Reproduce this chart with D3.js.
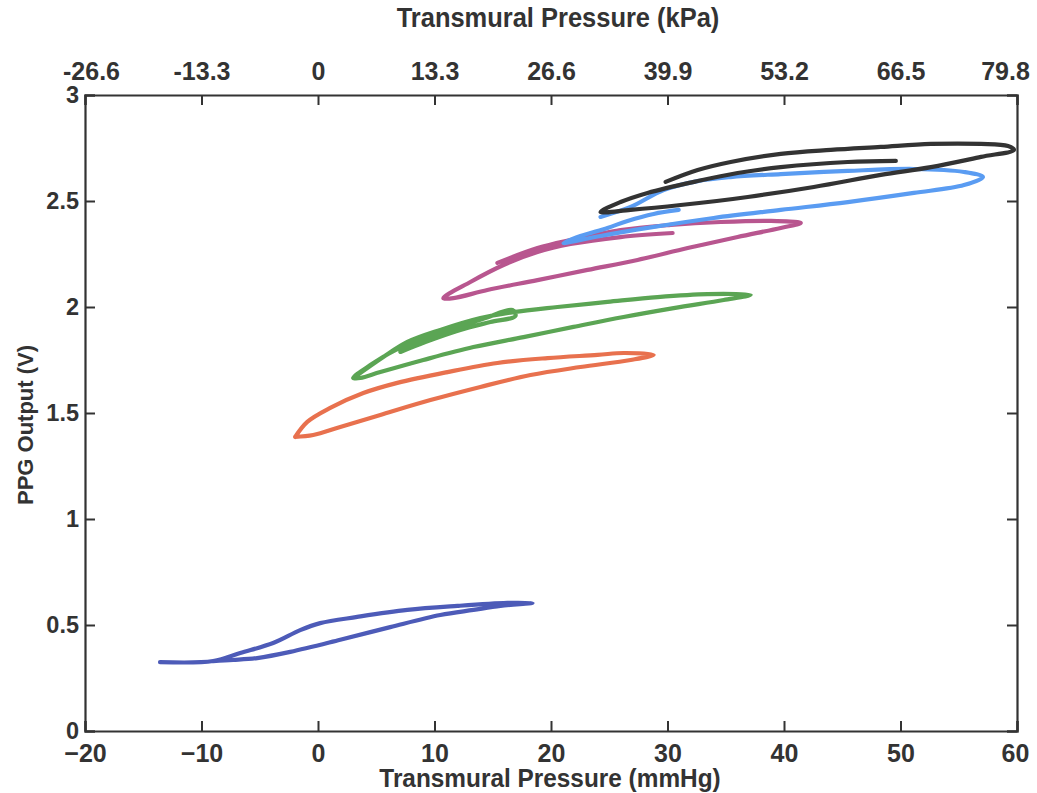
<!DOCTYPE html>
<html><head><meta charset="utf-8">
<script src="https://cdn.jsdelivr.net/npm/d3@7"></script>
<style>body{margin:0;background:#fff}</style>
</head><body>
<svg id="c" width="1037" height="793"></svg>
<script>
// ---- data ----
const xTicks = [-20,-10,0,10,20,30,40,50,60];
const yTicks = [0,0.5,1,1.5,2,2.5,3];
const topTickLabels = ["-26.6","-13.3","0","13.3","26.6","39.9","53.2","66.5","79.8"];

const blueX = [-13.56,-9.0,-6.68,-3.85,-1.53,0.19,3.37,7.67,11.97,16.26,18.41,15.66,13.34,10.5,6.2,1.91,-2.38,-5.22,-7.28,-9.0];
const blueY = [0.325,0.33,0.368,0.415,0.476,0.509,0.538,0.571,0.59,0.604,0.604,0.59,0.571,0.547,0.49,0.43,0.373,0.344,0.335,0.33];

const orangeX = [-1.96,-0.92,1.05,3.89,6.81,11.11,15.4,19.7,24.0,26.23,28.81,26.83,22.53,18.24,13.94,9.65,5.35,1.91,-0.41,-1.96];
const orangeY = [1.387,1.458,1.524,1.594,1.642,1.693,1.736,1.759,1.774,1.783,1.774,1.75,1.717,1.679,1.623,1.561,1.491,1.434,1.396,1.387];

const greenX = [3.03,5.61,7.67,10.5,13.94,16.78,20.56,24.85,29.15,33.45,37.14,34.82,30.53,26.23,21.93,17.64,13.34,9.04,5.35,3.63,3.03,4.49,6.64,8.79,11.79,14.37,16.69,16.95,14.8,12.22,9.21,7.07];
const greenY = [1.665,1.764,1.835,1.892,1.948,1.976,2.0,2.024,2.047,2.061,2.057,2.033,1.995,1.953,1.906,1.858,1.811,1.75,1.693,1.665,1.665,1.726,1.797,1.844,1.901,1.948,1.986,1.958,1.929,1.892,1.835,1.788];

const magentaX = [15.4,18.84,21.68,25.97,30.27,34.56,38.86,41.44,39.72,36.02,31.73,27.43,23.14,18.84,14.54,11.62,10.76,13.08,15.92,18.84,21.68,25.97,30.44];
const magentaY = [2.208,2.278,2.316,2.363,2.387,2.401,2.406,2.396,2.373,2.33,2.278,2.222,2.175,2.127,2.08,2.042,2.042,2.118,2.198,2.259,2.297,2.33,2.349];

const lightBlueX = [24.25,26.83,29.67,32.59,35.42,39.72,45.48,51.15,55.45,57.08,55.45,51.15,45.48,39.72,33.96,28.29,24.25,21.07,22.53,24.85,26.57,28.81,30.96];
const lightBlueY = [2.425,2.472,2.552,2.594,2.613,2.627,2.642,2.651,2.637,2.613,2.575,2.538,2.495,2.458,2.42,2.373,2.335,2.302,2.335,2.373,2.406,2.439,2.458];

const blackX = [29.84,32.59,35.42,39.72,44.02,48.31,52.61,56.91,59.23,59.74,56.91,52.61,48.31,42.56,36.89,31.13,26.83,24.25,25.97,28.29,32.59,36.02,39.72,45.48,49.6];
const blackY = [2.59,2.646,2.684,2.722,2.741,2.755,2.769,2.769,2.759,2.741,2.708,2.66,2.623,2.566,2.519,2.481,2.458,2.448,2.495,2.538,2.594,2.632,2.66,2.684,2.689];

const seriesNames = ["blue","orange","green","magenta","lightBlue","black"];
const seriesX = [blueX,orangeX,greenX,magentaX,lightBlueX,blackX];
const seriesY = [blueY,orangeY,greenY,magentaY,lightBlueY,blackY];
const seriesColors = ["#4d5bb8","#e8714e","#5ba554","#b8568f","#5a9cf2","#333333"];

// ---- layout ----
const L = 85, R = 1017, T = 95, B = 731;
const svg = d3.select("#c");
const x = d3.scaleLinear().domain([-20,60]).range([L,R]);
const y = d3.scaleLinear().domain([0,3]).range([B,T]);
const axisColor = "#333";
const font = "'Liberation Sans',Arial,sans-serif";

// data lines
const line = d3.line().x(d=>x(d[0])).y(d=>y(d[1])).curve(d3.curveCatmullRom.alpha(0.5));
seriesX.forEach((xs,i)=>{
  const pts = xs.map((v,j)=>[v, seriesY[i][j]]);
  svg.append("path").attr("d", line(pts)).attr("fill","none")
    .attr("stroke", seriesColors[i]).attr("stroke-width",4.2)
    .attr("stroke-linejoin","round").attr("stroke-linecap","round");
});

// axes
const tickLen = 10;
const gB = svg.append("g").attr("transform",`translate(0,${B})`)
  .call(d3.axisBottom(x).tickValues(xTicks).tickSize(-tickLen).tickPadding(13).tickFormat(d3.format("d")));
const gT = svg.append("g").attr("transform",`translate(0,${T})`)
  .call(d3.axisTop(x).tickValues(xTicks).tickSize(-tickLen).tickPadding(15).tickFormat((d,i)=>topTickLabels[i]));
const gL = svg.append("g").attr("transform",`translate(${L},0)`)
  .call(d3.axisLeft(y).tickValues(yTicks).tickSize(-tickLen).tickPadding(6).tickFormat(d=>String(d)));
const gR = svg.append("g").attr("transform",`translate(${R},0)`)
  .call(d3.axisRight(y).tickValues(yTicks).tickSize(-tickLen).tickFormat(""));
[gB,gT,gL,gR].forEach(g=>{
  g.attr("font-family",font).attr("font-weight","bold");
  g.select(".domain").attr("stroke",axisColor).attr("stroke-width",2.2);
  g.selectAll(".tick line").attr("stroke",axisColor).attr("stroke-width",2);
  g.selectAll(".tick text").attr("fill","#333");
});
gB.attr("font-size",25);
gT.attr("font-size",25);
gL.attr("font-size",23.5);
gT.selectAll(".tick text").attr("dx",(d,i)=> i===0 ? 6 : (i===xTicks.length-1 ? -12 : 0));
gB.selectAll(".tick text").attr("dx",(d,i)=> i===xTicks.length-1 ? -2 : 0);

// titles
svg.append("g").attr("transform",`translate(558,27)`).append("text")
  .attr("transform","scale(0.91,1)").attr("text-anchor","middle")
  .attr("font-family",font).attr("font-weight","bold").attr("font-size",28).attr("fill","#333")
  .text("Transmural Pressure (kPa)");
svg.append("g").attr("transform",`translate(550,787)`).append("text")
  .attr("transform","scale(0.92,1)").attr("text-anchor","middle")
  .attr("font-family",font).attr("font-weight","bold").attr("font-size",26.5).attr("fill","#333")
  .text("Transmural Pressure (mmHg)");
svg.append("text").attr("transform","translate(33,425) rotate(-90)").attr("text-anchor","middle")
  .attr("font-family",font).attr("font-weight","bold").attr("font-size",22).attr("fill","#333")
  .text("PPG Output (V)");
</script>
</body></html>
